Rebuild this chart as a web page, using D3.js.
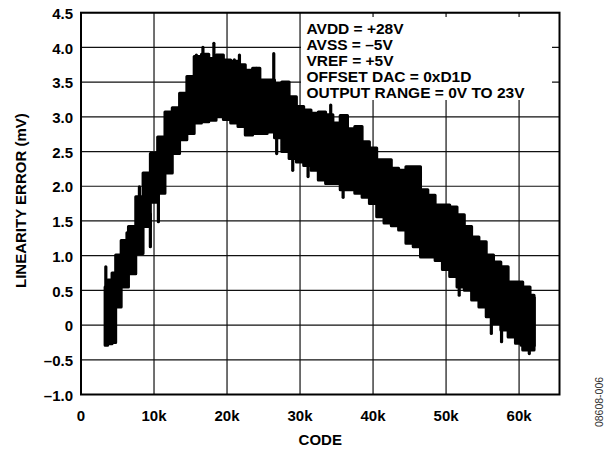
<!DOCTYPE html>
<html>
<head>
<meta charset="utf-8">
<script src="https://cdnjs.cloudflare.com/ajax/libs/d3/7.8.5/d3.min.js"></script>
<style>
    html, body { margin: 0; padding: 0; background: #fff; }
    svg { display: block; }
    .tick-label, .axis-label, .note {
        font-family: "Liberation Sans", Arial, Helvetica, sans-serif;
        font-weight: bold;
        fill: #000;
    }
    .tick-label { font-size: 15px; }
    .axis-label { font-size: 15px; }
    .note { font-size: 15.5px; }
    .fig-id {
        font-family: "Liberation Sans", Arial, sans-serif;
        font-size: 10.5px;
        fill: #333;
    }
</style>
</head>
<body>
<svg id="chart" width="614" height="449"></svg>
<script>
// Данные (код ЦАП / ошибка линейности, мВ)
const CODES =      [3300, 4000, 4500, 5000, 6000, 7000, 8000, 9000, 10000, 11000, 12000, 13000, 14000, 15000, 16000, 17000, 18000, 19000, 20000, 21000, 22000, 23000, 24000, 25000, 26000, 27000, 28000, 29000, 30000, 31000, 32000, 33000, 34000, 35000, 36000, 37000, 38000, 39000, 40000, 41000, 42000, 43000, 44000, 45000, 46000, 47000, 48000, 49000, 50000, 51000, 52000, 53000, 54000, 55000, 56000, 57000, 58000, 59000, 60000, 61000, 62000, 62100];
const ERR_UPPER =  [0.55, 0.65, 0.75, 1.01, 1.22, 1.42, 1.85, 2.19, 2.47, 2.71, 3.07, 3.13, 3.34, 3.58, 3.87, 3.90, 3.84, 3.89, 3.82, 3.80, 3.75, 3.67, 3.70, 3.53, 3.53, 3.48, 3.50, 3.29, 3.15, 3.10, 3.05, 3.07, 3.03, 2.91, 3.02, 2.83, 2.86, 2.64, 2.55, 2.38, 2.38, 2.26, 2.23, 2.28, 2.28, 1.95, 1.87, 1.73, 1.73, 1.70, 1.59, 1.42, 1.27, 1.20, 1.01, 0.91, 0.84, 0.62, 0.62, 0.55, 0.43, 0.40];
const ERR_LOWER =  [-0.29, -0.27, -0.25, 0.26, 0.55, 0.74, 1.03, 1.42, 1.77, 1.90, 2.19, 2.47, 2.67, 2.76, 2.91, 2.93, 2.95, 3.00, 2.96, 2.91, 2.86, 2.74, 2.76, 2.76, 2.78, 2.70, 2.50, 2.40, 2.35, 2.30, 2.23, 2.09, 2.04, 2.04, 1.95, 1.95, 1.90, 1.84, 1.75, 1.56, 1.47, 1.43, 1.37, 1.18, 1.13, 0.98, 0.98, 0.93, 0.80, 0.70, 0.55, 0.50, 0.36, 0.26, 0.12, 0.02, -0.07, -0.17, -0.26, -0.36, -0.36, -0.30];

// Отдельные выбросы (код, от, до)
const SPIKE_CODES = [3400, 6300, 8000, 9500, 10600, 15800, 16700, 18200, 21000, 21700, 24000, 26400, 26800, 29000, 31100, 34200, 35900, 50700, 51800, 56200, 57600, 60300, 61400];
const SPIKE_FROM =  [0.30, 1.00, 1.50, 1.13, 1.49, 3.40, 3.50, 3.50, 3.40, 3.50, 3.30, 3.20, 2.47, 2.23, 2.14, 2.70, 1.84, 0.74, 0.43, -0.12, -0.24, -0.29, -0.41];
const SPIKE_TO =    [0.84, 1.33, 1.99, 1.60, 2.00, 3.89, 4.00, 4.06, 3.82, 3.89, 3.70, 3.91, 3.00, 2.80, 2.60, 3.17, 2.30, 1.20, 0.90, 0.40, 0.30, 0.20, 0.00];

// Оси
const X_TICKS = [0, 10000, 20000, 30000, 40000, 50000, 60000];
const X_TICK_LABELS = ['0', '10k', '20k', '30k', '40k', '50k', '60k'];
const Y_TICKS = [-1.0, -0.5, 0, 0.5, 1.0, 1.5, 2.0, 2.5, 3.0, 3.5, 4.0, 4.5];
const Y_TICK_LABELS = ['\u20131.0', '\u20130.5', '0', '0.5', '1.0', '1.5', '2.0', '2.5', '3.0', '3.5', '4.0', '4.5'];

const NOTES = ['AVDD = +28V', 'AVSS = \u20135V', 'VREF = +5V', 'OFFSET DAC = 0xD1D', 'OUTPUT RANGE = 0V TO 23V'];
const X_LABEL = 'CODE';
const Y_LABEL = 'LINEARITY ERROR (mV)';
const FIG_ID = '08608-006';

const svg = d3.select('#chart');
const plot = { left: 81, right: 559.5, top: 12.7, bottom: 394.5 };

const x = d3.scaleLinear().domain([0, 65536]).range([plot.left, plot.right]);
const y = d3.scaleLinear().domain([-1.0, 4.5]).range([plot.bottom, plot.top]);

// Сетка
svg.append('g')
    .selectAll('line')
    .data(X_TICKS)
    .enter()
    .append('line')
    .attr('x1', d => x(d)).attr('x2', d => x(d))
    .attr('y1', plot.top).attr('y2', plot.bottom)
    .attr('stroke', '#111')
    .attr('stroke-width', 1.2);

svg.append('g')
    .selectAll('line')
    .data(Y_TICKS)
    .enter()
    .append('line')
    .attr('x1', plot.left).attr('x2', plot.right)
    .attr('y1', d => y(d)).attr('y2', d => y(d))
    .attr('stroke', '#111')
    .attr('stroke-width', 1.2);

// Белая подложка под подписью условий
svg.append('rect')
    .attr('x', 301)
    .attr('y', 17)
    .attr('width', 251)
    .attr('height', 83)
    .attr('fill', '#fff');

// Полоса данных (ступеньками, как шум на оригинале)
const rows = CODES.map((c, i) => ({ code: c, hi: ERR_UPPER[i], lo: ERR_LOWER[i] }));

const band = d3.area()
    .x(d => x(d.code))
    .y0(d => y(d.lo))
    .y1(d => y(d.hi))
    .curve(d3.curveStep);

svg.append('path')
    .datum(rows)
    .attr('d', band)
    .attr('fill', '#000')
    .attr('stroke', '#000')
    .attr('stroke-width', 3)
    .attr('stroke-linejoin', 'round');

const spikes = SPIKE_CODES.map((c, i) => ({ code: c, from: SPIKE_FROM[i], to: SPIKE_TO[i] }));

svg.append('g')
    .selectAll('line')
    .data(spikes)
    .enter()
    .append('line')
    .attr('x1', d => x(d.code)).attr('x2', d => x(d.code))
    .attr('y1', d => y(d.from)).attr('y2', d => y(d.to))
    .attr('stroke', '#000')
    .attr('stroke-width', 3.2)
    .attr('stroke-linecap', 'round');

// Рамка
svg.append('rect')
    .attr('x', plot.left)
    .attr('y', plot.top)
    .attr('width', plot.right - plot.left)
    .attr('height', plot.bottom - plot.top)
    .attr('fill', 'none')
    .attr('stroke', '#000')
    .attr('stroke-width', 2);

// Подписи делений
svg.append('g')
    .selectAll('text')
    .data(Y_TICKS)
    .enter()
    .append('text')
    .attr('class', 'tick-label')
    .attr('x', plot.left - 8)
    .attr('y', d => y(d) + 6.2)
    .attr('text-anchor', 'end')
    .text((d, i) => Y_TICK_LABELS[i]);

svg.append('g')
    .selectAll('text')
    .data(X_TICKS)
    .enter()
    .append('text')
    .attr('class', 'tick-label')
    .attr('x', d => x(d))
    .attr('y', 421)
    .attr('text-anchor', 'middle')
    .text((d, i) => X_TICK_LABELS[i]);

// Названия осей
svg.append('text')
    .attr('class', 'axis-label')
    .attr('x', (plot.left + plot.right) / 2)
    .attr('y', 445)
    .attr('text-anchor', 'middle')
    .text(X_LABEL);

svg.append('text')
    .attr('class', 'axis-label')
    .attr('transform', `translate(26,${(plot.top + plot.bottom) / 2 - 3}) rotate(-90)`)
    .attr('text-anchor', 'middle')
    .text(Y_LABEL);

// Условия измерения
svg.append('g')
    .selectAll('text')
    .data(NOTES)
    .enter()
    .append('text')
    .attr('class', 'note')
    .attr('x', 306.5)
    .attr('y', (d, i) => 34 + i * 15.9)
    .text(d => d);

// Номер рисунка
svg.append('text')
    .attr('class', 'fig-id')
    .attr('transform', 'translate(603,402) rotate(-90)')
    .attr('text-anchor', 'middle')
    .text(FIG_ID);
</script>
</body>
</html>
